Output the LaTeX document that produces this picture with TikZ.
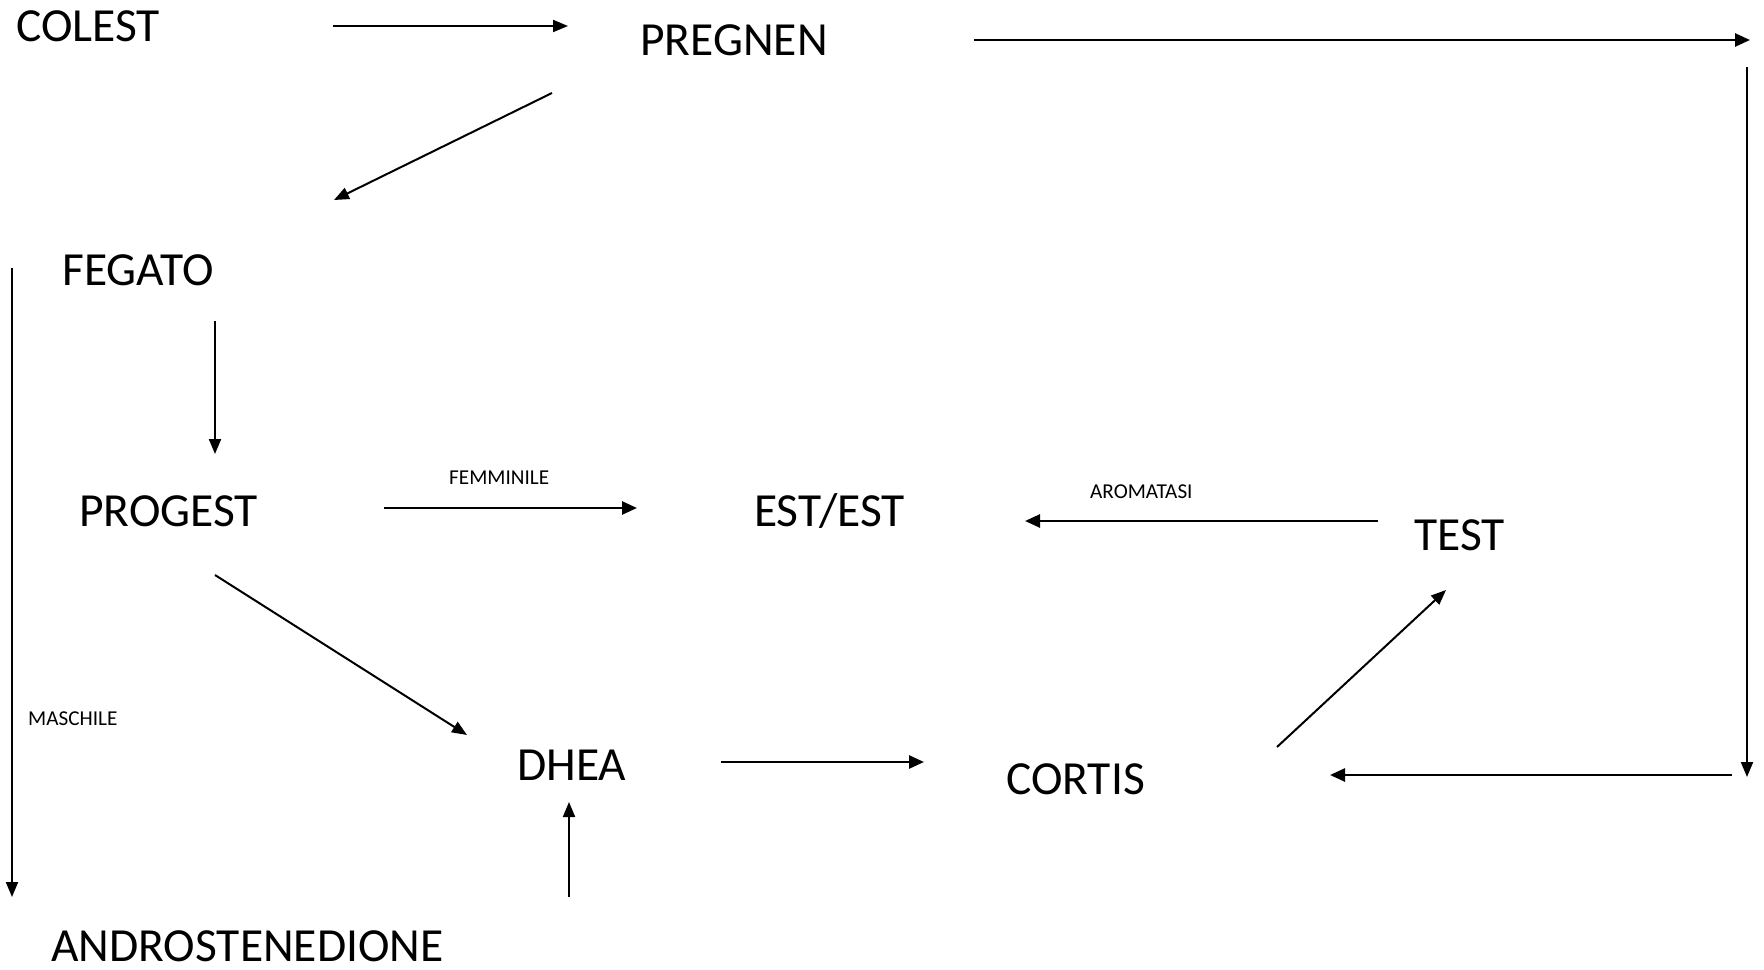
\documentclass[tikz,border=0pt]{standalone}
\usepackage{fontspec}
\setmainfont{Carlito}
\usetikzlibrary{arrows.meta}
\tikzset{
  big/.style={anchor=base west, inner sep=0pt, font=\fontsize{47.5}{57}\selectfont},
  small/.style={anchor=base west, inner sep=0pt, font=\fontsize{21.2}{25}\selectfont},
  conn/.style={line width=2pt, -{Triangle[length=15pt,width=12pt]}},
  thick conn/.style={line width=2.6pt, -{Triangle[length=15pt,width=13pt]}},
}
\begin{document}
\begin{tikzpicture}[x=1pt,y=-1pt]
\useasboundingbox (0,0) rectangle (1764,969);
% nodes
\node[big] (colest) at (16,41) {COLEST};
\node[big] (pregnen) at (640,55) {PREGNEN};
\node[big] (fegato) at (62,285) {FEGATO};
\node[big] (progest) at (79,526) {PROGEST};
\node[big] (est) at (754,526) {EST/EST};
\node[big] (test) at (1414,550) {TEST};
\node[big] (dhea) at (517,780) {DHEA};
\node[big] (cortis) at (1006,794) {CORTIS};
\node[big] (andro) at (51,961) {ANDROSTENEDIONE};
\node[small] (femm) at (449,484) {FEMMINILE};
\node[small] (aroma) at (1090,498) {AROMATASI};
\node[small] (masch) at (28,725) {MASCHILE};
% endpoints
\coordinate (a1s) at (333,26);   \coordinate (a1e) at (568,26);
\coordinate (a2s) at (974,40);   \coordinate (a2e) at (1750,40);
\coordinate (a3s) at (1747,67);  \coordinate (a3e) at (1747,777);
\coordinate (a4s) at (1732,775); \coordinate (a4e) at (1330,775);
\coordinate (a5s) at (552,93);   \coordinate (a5e) at (334,200);
\coordinate (a6s) at (12,268);   \coordinate (a6e) at (12,897);
\coordinate (a7s) at (215,321);  \coordinate (a7e) at (215,454);
\coordinate (a8s) at (384,508);  \coordinate (a8e) at (637,508);
\coordinate (a9s) at (1378,521); \coordinate (a9e) at (1025,521);
\coordinate (a10s) at (215,575); \coordinate (a10e) at (467,735);
\coordinate (a11s) at (721,762); \coordinate (a11e) at (924,762);
\coordinate (a12s) at (1277,747);\coordinate (a12e) at (1446,590);
\coordinate (a13s) at (569,897); \coordinate (a13e) at (569,802);
% connectors
\draw[conn] (a1s) -- (a1e);
\draw[thick conn] (a2s) -- (a2e);
\draw[conn] (a3s) -- (a3e);
\draw[thick conn] (a4s) -- (a4e);
\draw[conn] (a5s) -- (a5e);
\draw[conn] (a6s) -- (a6e);
\draw[conn] (a7s) -- (a7e);
\draw[thick conn] (a8s) -- (a8e);
\draw[thick conn] (a9s) -- (a9e);
\draw[conn] (a10s) -- (a10e);
\draw[thick conn] (a11s) -- (a11e);
\draw[conn] (a12s) -- (a12e);
\draw[conn] (a13s) -- (a13e);
\end{tikzpicture}
\end{document}
